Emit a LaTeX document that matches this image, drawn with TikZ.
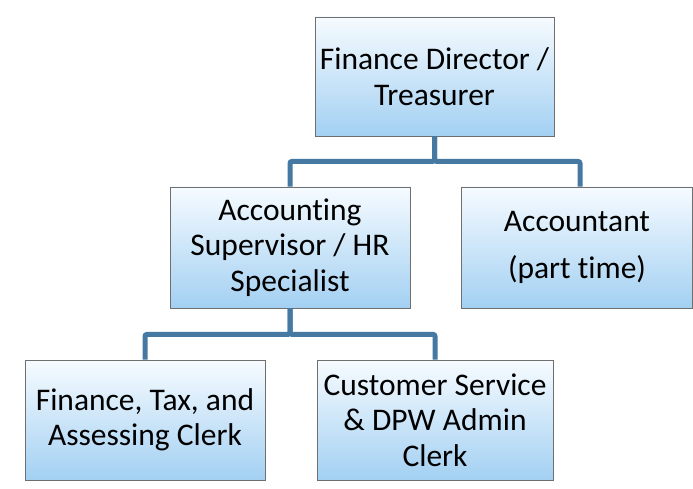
\documentclass[tikz,border=0pt]{standalone}
\usepackage{fontspec}
\setmainfont{Carlito}[Ligatures=NoCommon]
\usepackage{tikz}
\usetikzlibrary{positioning,calc}
\usepackage{xcolor}
\definecolor{BoxTop}{HTML}{F6FBFF}
\definecolor{BoxBottom}{HTML}{A3D0F2}
\definecolor{BoxEdge}{HTML}{6F6F6F}
\definecolor{LinkBlue}{HTML}{4679A2}
\tikzset{
  orgbox/.style={draw=BoxEdge,line width=0.8pt,top color=BoxTop,bottom color=BoxBottom,minimum width=240pt,minimum height=120pt,align=center,inner sep=2pt,font=\fontsize{31.5}{35.5}\selectfont},
  orglink/.style={draw=LinkBlue,line width=5pt,rounded corners=2pt}
}

\begin{document}
\begin{tikzpicture}[x=1pt,y=1pt]
\useasboundingbox (0,0) rectangle (693,488);
\fill[white] (0,0) rectangle (693,488);
% boxes
\node[orgbox,minimum width=239pt,minimum height=119pt] (director) at (434.5,411.5) {Finance Director /\\Treasurer};
\node[orgbox,minimum height=121pt] (supervisor) at (290,240.5) {Accounting\\Supervisor / HR\\Specialist};
\node[orgbox,minimum width=231pt,minimum height=121pt] (accountant) at (577,240.5) {Accountant\\[12pt](part time)};
\node[orgbox] (clerkfin) at (145,68) {Finance, Tax, and\\Assessing Clerk};
\node[orgbox,minimum width=236pt] (clerkcs) at (435,68) {Customer Service\\\& DPW Admin\\Clerk};
% links
\draw[orglink] (director.south) -- ++(0,-25) -| (supervisor.north);
\draw[orglink] (director.south) -- ++(0,-25) -| ([xshift=3pt]accountant.north);
\draw[orglink] (supervisor.south) -- ++(0,-26) -| (clerkfin.north);
\draw[orglink] (supervisor.south) -- ++(0,-26) -| (clerkcs.north);
\end{tikzpicture}
\end{document}
